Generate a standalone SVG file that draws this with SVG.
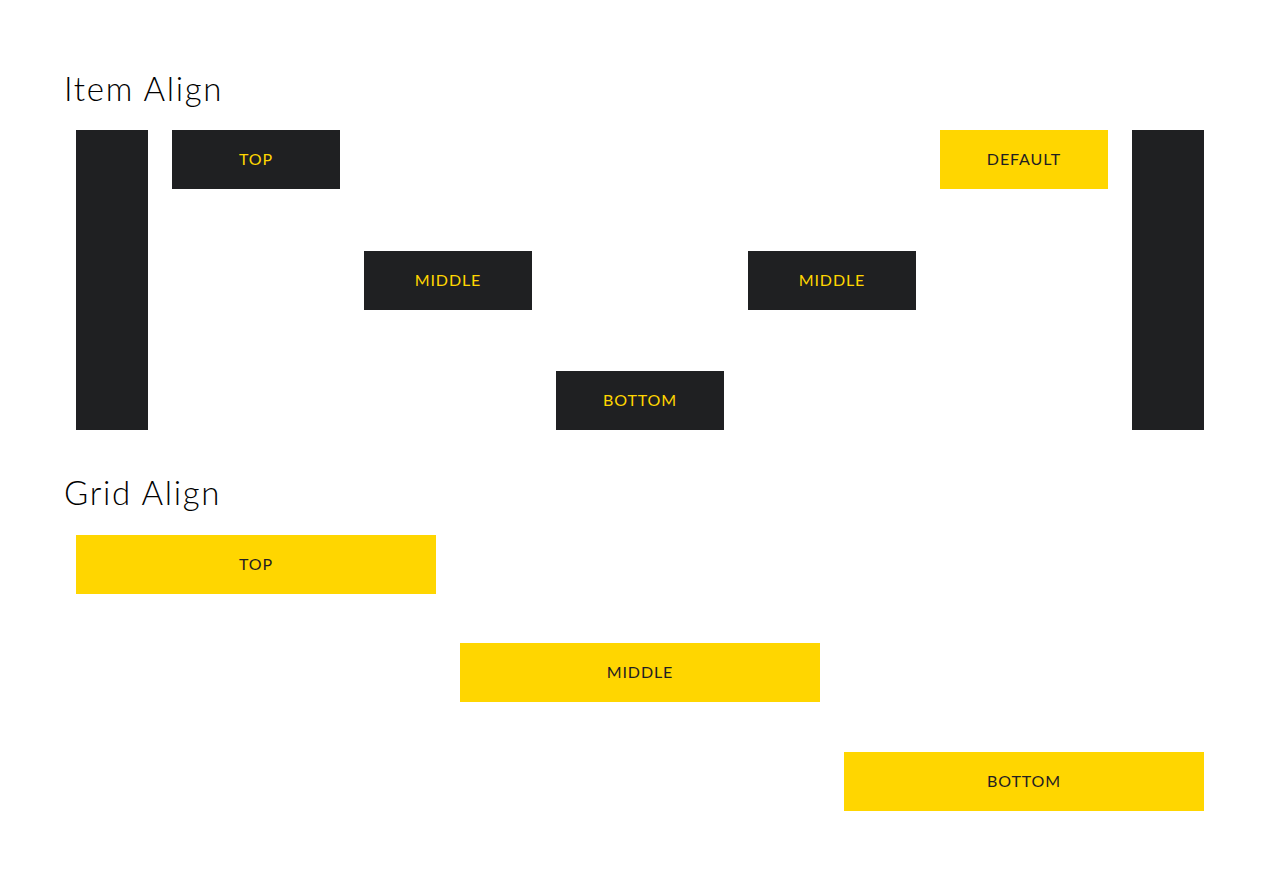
<svg xmlns="http://www.w3.org/2000/svg" width="1280" height="885" viewBox="0 0 1280 885">
<style>
.title{font-family:Lato,"Noto Sans","Liberation Sans",sans-serif;font-weight:300;font-size:33px;letter-spacing:1.7px;fill:#000}
.dark{fill:#1f2022}
.yel{fill:#ffd600}
.lbl{font-family:Lato,"Noto Sans","Liberation Sans",sans-serif;font-weight:400;font-size:16px;letter-spacing:0.9px;text-anchor:middle;dominant-baseline:central}
.ly{fill:#ffd600}
.ld{fill:#1f2022}
</style>
<rect width="1280" height="885" fill="#fff"/>
<text class="title" x="64" y="101">Item Align</text>
<g id="bar-left"><rect class="dark" x="76" y="130" width="72" height="300"/></g>
<g id="item-top"><rect class="dark" x="172" y="130" width="168" height="59"/><text class="lbl ly" x="256" y="158.5">TOP</text></g>
<g id="item-middle-1"><rect class="dark" x="364" y="251" width="168" height="59"/><text class="lbl ly" x="448" y="279.5">MIDDLE</text></g>
<g id="item-bottom"><rect class="dark" x="556" y="371" width="168" height="59"/><text class="lbl ly" x="640" y="399.5">BOTTOM</text></g>
<g id="item-middle-2"><rect class="dark" x="748" y="251" width="168" height="59"/><text class="lbl ly" x="832" y="279.5">MIDDLE</text></g>
<g id="item-default"><rect class="yel" x="940" y="130" width="168" height="59"/><text class="lbl ld" x="1024" y="158.5">DEFAULT</text></g>
<g id="bar-right"><rect class="dark" x="1132" y="130" width="72" height="300"/></g>
<text class="title" x="64" y="505">Grid Align</text>
<g id="grid-top"><rect class="yel" x="76" y="535" width="360" height="59"/><text class="lbl ld" x="256" y="563.5">TOP</text></g>
<g id="grid-middle"><rect class="yel" x="460" y="643" width="360" height="59"/><text class="lbl ld" x="640" y="671.5">MIDDLE</text></g>
<g id="grid-bottom"><rect class="yel" x="844" y="752" width="360" height="59"/><text class="lbl ld" x="1024" y="780.5">BOTTOM</text></g>
<g id="connectors"></g>
</svg>
